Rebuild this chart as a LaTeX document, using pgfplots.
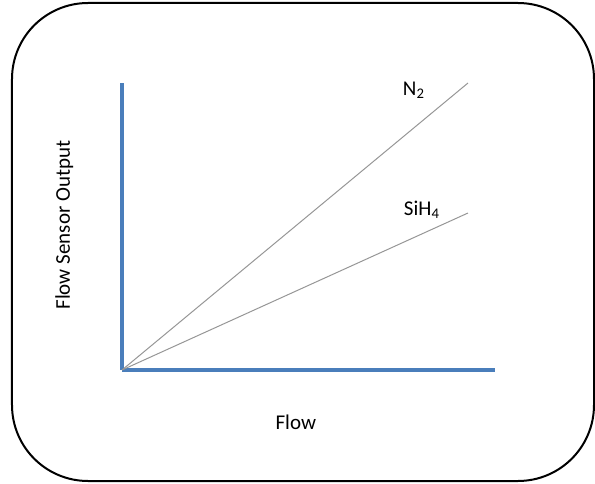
\documentclass[border=0pt]{standalone}
\usepackage{fontspec}
\setmainfont{Carlito}
\usepackage{pgfplots}
\pgfplotsset{compat=1.18}
\definecolor{axblue}{RGB}{74,126,187}
\definecolor{lgray}{RGB}{150,150,150}
\begin{document}
\begin{tikzpicture}[x=1pt,y=1pt]
\fontsize{10.5}{12.5}\selectfont
\useasboundingbox (-61,-56.5) rectangle (236.5,185);
\draw[line width=1pt, rounded corners=38pt] (-55,-55.5) rectangle (236,183.5);
\begin{axis}[
  at={(0,0)}, anchor=south west,
  scale only axis, width=186.5pt, height=143.5pt,
  xmin=0, xmax=373, ymin=0, ymax=287,
  axis lines=left,
  axis line style={axblue, line width=1.75pt, -},
  xtick=\empty, ytick=\empty,
  xlabel={Flow}, ylabel={Flow Sensor Output},
  every axis x label/.style={at={(axis description cs:0.466,-0.181)}, anchor=center},
  every axis y label/.style={at={(axis description cs:-0.155,0.505)}, anchor=center, rotate=90},
  clip=false,
]
\addplot[lgray, line width=0.5pt] coordinates {(0,0) (346,287)};
\addplot[lgray, line width=0.5pt] coordinates {(0,0) (346,157)};
\node at (axis cs:292,280) {N\textsubscript{2}};
\node at (axis cs:300,160) {SiH\textsubscript{4}};
\end{axis}
\end{tikzpicture}
\end{document}
